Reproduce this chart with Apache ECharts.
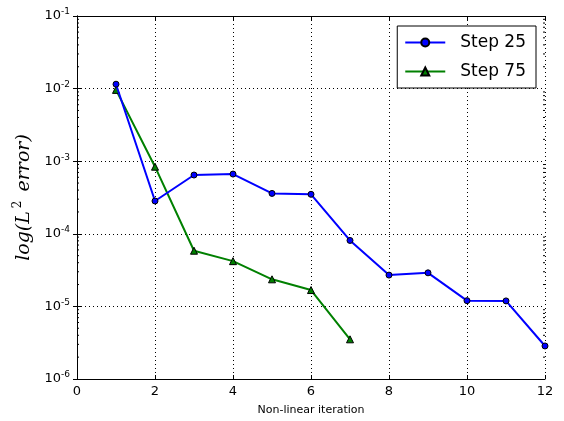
<!DOCTYPE html>
<html>
<head>
<meta charset="utf-8">
<script src="https://cdn.jsdelivr.net/npm/echarts@6/dist/echarts.min.js"></script>
<style>
html, body { margin: 0; padding: 0; background: #fff; }
#chart { width: 564px; height: 421px; }
</style>
</head>
<body>
<div id="chart"></div>
<script>
// iteration numbers
var iterations = [1, 2, 3, 4, 5, 6, 7, 8, 9, 10, 11, 12];
// L2 error
var step25 = [1.15e-2, 2.83e-4, 6.45e-4, 6.65e-4, 3.6e-4, 3.5e-4, 8.1e-5, 2.7e-5, 2.9e-5, 1.2e-5, 1.19e-5, 2.85e-6];
var step75 = [9.6e-3, 8.4e-4, 5.85e-5, 4.2e-5, 2.36e-5, 1.68e-5, 3.52e-6];
// minor ticks of the log axis (2..9 per decade)
var minorVals = [];
for (var k = -6; k < -1; k++) {
    for (var m = 2; m <= 9; m++) {
        minorVals.push(m * Math.pow(10, k));
    }
}

function pairs(xs, ys) {
    var out = [];
    for (var i = 0; i < ys.length; i++) out.push([xs[i], ys[i]]);
    return out;
}

var font = 'DejaVu Sans';
var myChart = echarts.init(document.getElementById('chart'));

var option = {
    animation: false,
    backgroundColor: '#fff',
    textStyle: { fontFamily: font, color: '#000' },
    grid: { left: 77, right: 19, top: 16, bottom: 42, show: false },
    legend: {
        orient: 'vertical',
        right: 28,
        top: 26,
        padding: [8, 10, 8, 7],
        itemGap: 12,
        itemWidth: 40,
        itemHeight: 10,
        borderColor: '#000',
        borderWidth: 1,
        backgroundColor: '#fff',
        textStyle: { fontFamily: font, fontSize: 17, color: '#000', padding: [0, 0, 0, 10] },
        data: ['Step 25', 'Step 75']
    },
    xAxis: [{
        type: 'value',
        min: 0, max: 12, interval: 2,
        name: 'Non-linear iteration',
        nameLocation: 'middle',
        nameGap: 26,
        nameTextStyle: { fontSize: 11, fontFamily: font, color: '#000' },
        axisLine: { lineStyle: { color: '#000', width: 1 } },
        axisTick: { inside: true, length: 4, lineStyle: { color: '#000' } },
        axisLabel: { fontSize: 13, color: '#000', margin: 6 },
        splitLine: { show: true, lineStyle: { color: '#000', type: [1, 3], width: 1 } }
    }, {
        type: 'value',
        position: 'top',
        min: 0, max: 12, interval: 2,
        axisLine: { lineStyle: { color: '#000', width: 1 } },
        axisTick: { inside: true, length: 4, lineStyle: { color: '#000' } },
        axisLabel: { show: false },
        splitLine: { show: false }
    }],
    yAxis: [{
        type: 'log',
        logBase: 10,
        min: 1e-6, max: 1e-1,
        name: '{i|log(L}{s|2}{i|error)}',
        nameLocation: 'middle',
        nameRotate: 90,
        nameGap: 39,
        nameTextStyle: {
            rich: {
                i: { fontFamily: 'DejaVu Serif', fontStyle: 'italic', fontSize: 19, color: '#000' },
                s: { fontFamily: 'DejaVu Serif', fontSize: 12, color: '#000', padding: [0, 9, 12, 3] }
            }
        },
        axisLine: { lineStyle: { color: '#000', width: 1 } },
        axisTick: { inside: true, length: 4, lineStyle: { color: '#000' } },
        axisLabel: {
            margin: 7,
            formatter: function (v) {
                var e = Math.round(Math.log10(v));
                return '{b|10}{s|' + e + '}';
            },
            rich: {
                b: { fontSize: 13, color: '#000', fontFamily: font },
                s: { fontSize: 9, color: '#000', fontFamily: font, padding: [0, 0, 8, 0] }
            }
        },
        splitLine: { show: true, lineStyle: { color: '#000', type: [1, 3], width: 1 } }
    }, {
        type: 'log',
        logBase: 10,
        position: 'right',
        min: 1e-6, max: 1e-1,
        axisLine: { lineStyle: { color: '#000', width: 1 } },
        axisTick: { inside: true, length: 4, lineStyle: { color: '#000' } },
        axisLabel: { show: false },
        splitLine: { show: false }
    }],
    series: [{
        name: 'minor',
        type: 'custom',
        silent: true,
        data: minorVals.map(function (v) { return [0, v]; }),
        renderItem: function (params, api) {
            var v = api.value(1);
            var l = api.coord([0, v]);
            var r = api.coord([12, v]);
            var st = { stroke: '#000', lineWidth: 1 };
            return {
                type: 'group',
                children: [
                    { type: 'line', shape: { x1: l[0], y1: l[1], x2: l[0] + 2, y2: l[1] }, style: st },
                    { type: 'line', shape: { x1: r[0], y1: r[1], x2: r[0] - 2, y2: r[1] }, style: st }
                ]
            };
        },
        clip: false,
        z: 1
    }, {
        name: 'Step 25',
        type: 'line',
        data: pairs(iterations, step25),
        symbol: 'circle',
        symbolSize: 6,
        color: '#0000ff',
        lineStyle: { color: '#0000ff', width: 2 },
        itemStyle: { color: '#0000ff', borderColor: '#000', borderWidth: 1 },
        clip: false,
        z: 3
    }, {
        name: 'Step 75',
        type: 'line',
        data: pairs(iterations, step75),
        symbol: 'triangle',
        symbolSize: 7,
        color: '#008000',
        lineStyle: { color: '#008000', width: 2 },
        itemStyle: { color: '#008000', borderColor: '#000', borderWidth: 1 },
        clip: false,
        z: 2
    }]
};

myChart.setOption(option);
</script>
</body>
</html>
